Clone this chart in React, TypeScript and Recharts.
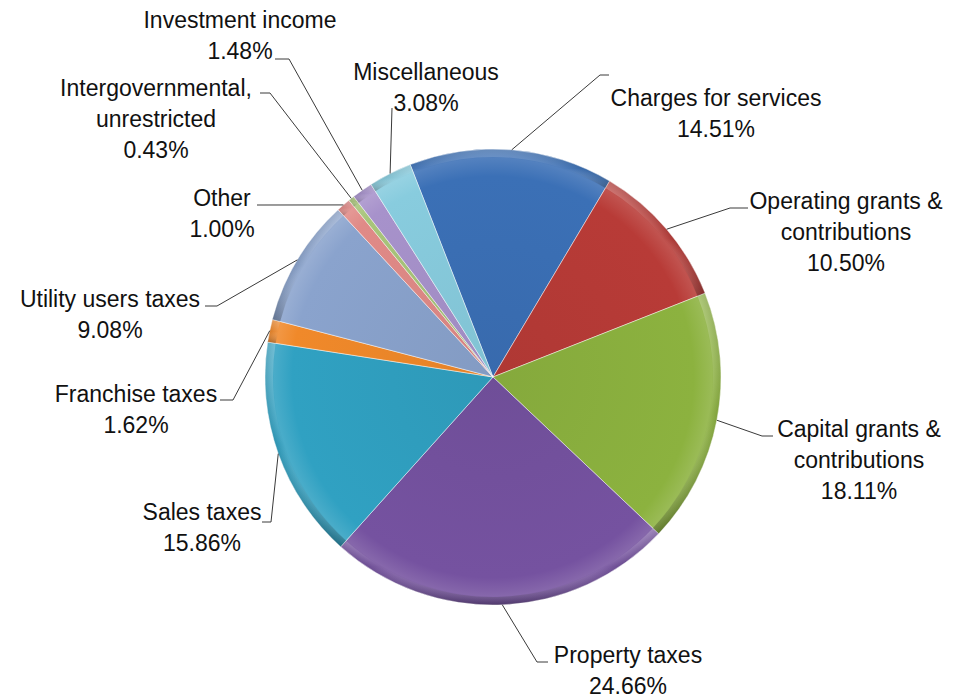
import { PieChart, Pie, Cell } from 'recharts'

// revenue sources, clockwise from the top
const CATEGORIES = [
  'Charges for services',
  'Operating grants &\ncontributions',
  'Capital grants &\ncontributions',
  'Property taxes',
  'Sales taxes',
  'Franchise taxes',
  'Utility users taxes',
  'Other',
  'Intergovernmental,\nunrestricted',
  'Investment income',
  'Miscellaneous'
]

const SHARES = [14.51, 10.5, 18.11, 24.66, 15.86, 1.62, 9.08, 1.0, 0.43, 1.48, 3.08]

const COLORS = [
  '#3b70b6', '#b83b37', '#8cb23f', '#7552a0', '#30a1c2', '#f0892a',
  '#8aa3cd', '#e08a87', '#a8c47a', '#a792cb', '#88ccde'
]

const data = CATEGORIES.map((name, i) => ({ name, value: SHARES[i] }))

// pie geometry
const CX = 493
const CY = 377
const R = 228
const START = 111.3

// where each label sits: leader elbow, leader end, text centre + first baseline
const LABEL_LAYOUT = [
  { elbow: [600, 75], end: [609, 75], tx: 716, ty: 106 },
  { elbow: [730, 208], end: [748, 208], tx: 846, ty: 209 },
  { elbow: [762, 436], end: [773, 436], tx: 859, ty: 437 },
  { elbow: [537, 662], end: [548, 662], tx: 628, ty: 663 },
  { elbow: [271, 522], end: [262, 522], tx: 202, ty: 520 },
  { elbow: [233, 400], end: [220, 400], tx: 136, ty: 402 },
  { elbow: [217, 306], end: [205, 306], tx: 110, ty: 307 },
  { elbow: [265, 205], end: [257, 205], tx: 222, ty: 206 },
  { elbow: [270, 93], end: [260, 93], tx: 156, ty: 96 },
  { elbow: [289, 59], end: [275, 59], tx: 240, ty: 28 },
  { elbow: [392, 108], end: [392, 108], tx: 426, ty: 80 }
]

const RADIAN = Math.PI / 180
const LINE_H = 31

const shade = (hex: string, amt: number) => {
  const n = parseInt(hex.slice(1), 16)
  const ch = [(n >> 16) & 255, (n >> 8) & 255, n & 255].map((c) =>
    Math.round(amt >= 0 ? c + (255 - c) * amt : c * (1 + amt))
  )
  return `rgb(${ch[0]},${ch[1]},${ch[2]})`
}

const renderLabel = (props: any) => {
  const { cx, cy, midAngle, outerRadius, index, value } = props
  const lay = LABEL_LAYOUT[index]
  const sx = cx + outerRadius * Math.cos(-midAngle * RADIAN)
  const sy = cy + outerRadius * Math.sin(-midAngle * RADIAN)
  const lines = [...CATEGORIES[index].split('\n'), `${value.toFixed(2)}%`]
  return (
    <g key={`label-${index}`}>
      <polyline
        points={`${sx},${sy} ${lay.elbow[0]},${lay.elbow[1]} ${lay.end[0]},${lay.end[1]}`}
        fill="none"
        stroke="#3a3a3a"
        strokeWidth={1}
      />
      <text
        x={lay.tx}
        y={lay.ty}
        textAnchor="middle"
        fill="#111"
        fontSize={23}
        fontFamily="'Liberation Sans', Arial, sans-serif"
      >
        {lines.map((l, i) => (
          <tspan key={i} x={lay.tx} dy={i === 0 ? 0 : LINE_H}>{l}</tspan>
        ))}
      </text>
    </g>
  )
}

export default function App() {
  return (
    <div style={{ position: 'absolute', left: 0, top: 0, width: 962, height: 700, background: '#fff' }}>
      <PieChart width={962} height={700} margin={{ top: 0, right: 0, bottom: 0, left: 0 }}>
        <defs>
          {COLORS.map((c, i) => (
            <radialGradient key={i} id={`slice-${i}`} gradientUnits="userSpaceOnUse" cx={CX} cy={CY} r={R}>
              <stop offset="0%" stopColor={shade(c, -0.05)} />
              <stop offset="88%" stopColor={c} />
              <stop offset="96%" stopColor={shade(c, 0.12)} />
              <stop offset="100%" stopColor={shade(c, -0.1)} />
            </radialGradient>
          ))}
          <linearGradient id="rim" x1="0" y1="0" x2="0" y2="1">
            <stop offset="0%" stopColor="#fff" stopOpacity={0.25} />
            <stop offset="50%" stopColor="#fff" stopOpacity={0} />
            <stop offset="100%" stopColor="#000" stopOpacity={0.25} />
          </linearGradient>
        </defs>
        <Pie
          data={data}
          dataKey="value"
          nameKey="name"
          cx={CX}
          cy={CY}
          outerRadius={R}
          startAngle={START}
          endAngle={START - 360}
          stroke="rgba(255,255,255,0.45)"
          strokeWidth={1}
          label={renderLabel}
          labelLine={false}
          isAnimationActive={false}
        >
          {data.map((entry, index) => (
            <Cell key={`cell-${index}`} fill={`url(#slice-${index})`} />
          ))}
        </Pie>
        <Pie
          data={data}
          dataKey="value"
          cx={CX}
          cy={CY}
          innerRadius={R - 8}
          outerRadius={R}
          startAngle={START}
          endAngle={START - 360}
          fill="url(#rim)"
          stroke="none"
          isAnimationActive={false}
        />
      </PieChart>
    </div>
  )
}
